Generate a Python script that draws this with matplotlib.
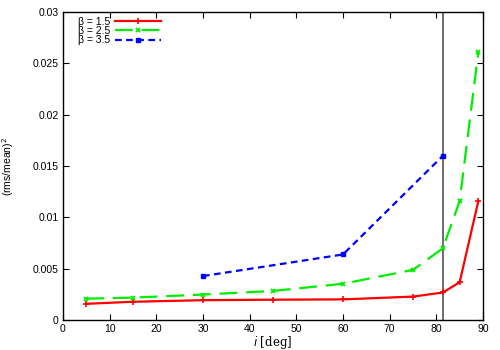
import matplotlib
matplotlib.use("Agg")
import matplotlib.pyplot as plt

# data
inc_red = [5, 15, 30, 45, 60, 75, 81.4, 85, 89]
val_red = [0.0016, 0.0018, 0.00195, 0.002, 0.00203, 0.0023, 0.0027, 0.0037, 0.0116]
inc_green = [5, 15, 30, 45, 60, 75, 81.4, 85, 89]
val_green = [0.0021, 0.0022, 0.0025, 0.00285, 0.00355, 0.0049, 0.0070, 0.0116, 0.0261]
inc_blue = [30, 60, 81.4]
val_blue = [0.0043, 0.0064, 0.0160]
vline_x = 81.4

xticks = [0, 10, 20, 30, 40, 50, 60, 70, 80, 90]
yticks = [0, 0.005, 0.01, 0.015, 0.02, 0.025, 0.03]
ylabels = ["0", "0.005", "0.01", "0.015", "0.02", "0.025", "0.03"]

plt.rcParams["font.family"] = ["Liberation Sans", "DejaVu Sans"]
fig = plt.figure(figsize=(5, 3.5), dpi=100)
ax = fig.add_axes([0.126, 0.085, 0.84, 0.881])

ax.axvline(vline_x, color="#555555", lw=1.2, zorder=1)
ax.plot(inc_red, val_red, color="red", lw=1.6, marker="+", ms=5, mew=1.2, label="β = 1.5")
ax.plot(inc_green, val_green, color="#00ee00", lw=1.6, ls=(0, (8, 4)), marker="x", ms=3.5, mew=1.3, label="β = 2.5")
ax.plot(inc_blue, val_blue, color="blue", lw=1.6, ls=(0, (3, 2)), marker="s", ms=3.5, label="β = 3.5")

ax.set_xlim(0, 90)
ax.set_ylim(0, 0.03)
ax.set_xticks(xticks)
ax.set_xticklabels([str(t) for t in xticks], fontsize=7.5)
ax.set_yticks(yticks)
ax.set_yticklabels(ylabels, fontsize=7.5)
ax.tick_params(direction="in", top=True, right=True, length=4, width=0.8, pad=3)
for s in ax.spines.values():
    s.set_linewidth(1)

ax.set_xlabel("$i$ [deg]", fontsize=8.5, family="DejaVu Serif")
ax.xaxis.set_label_coords(0.5, -0.045)
ax.set_ylabel("(rms/mean)$^2$", fontsize=7.5)
ax.yaxis.set_label_coords(-0.112, 0.5)

leg = ax.legend(loc="upper left", bbox_to_anchor=(0.015, 1.012), frameon=False, fontsize=7.5,
                markerfirst=False, handlelength=4.4, labelspacing=-0.05, borderpad=0.3,
                handletextpad=0.5)

fig.savefig("out.png", dpi=100)
